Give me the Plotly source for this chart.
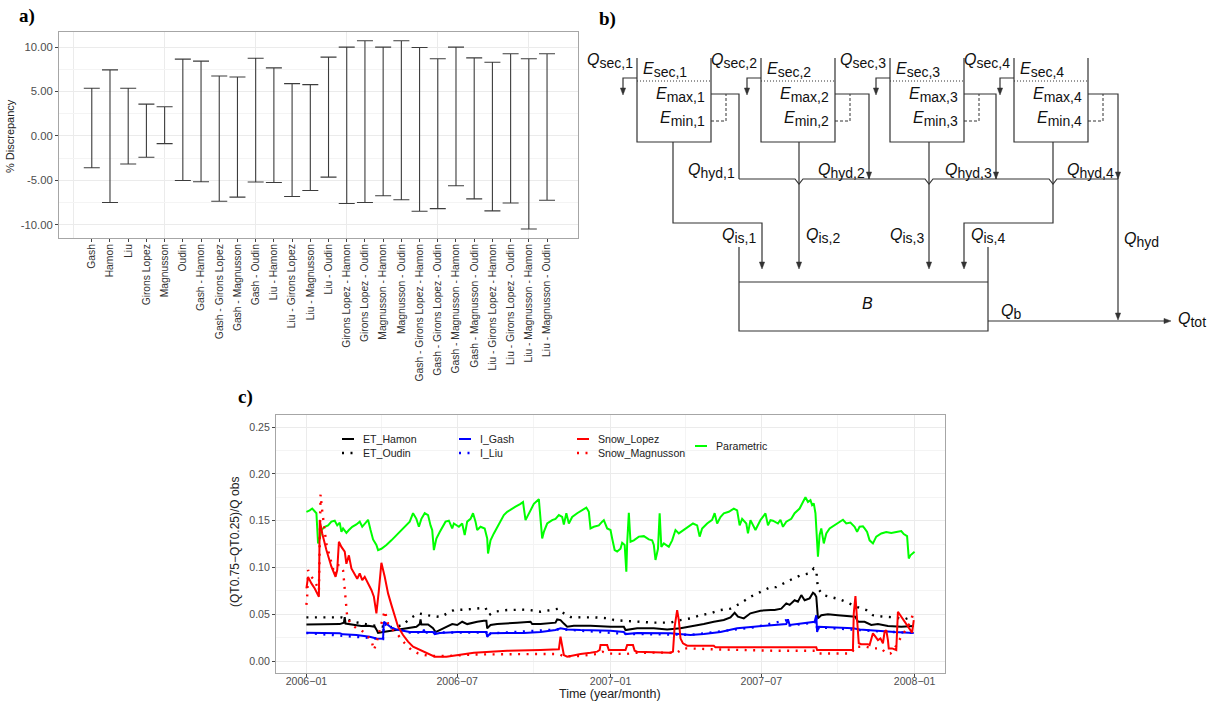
import pandas as pd
import plotly.graph_objects as go

W, H = 1207, 707
FONT = "Liberation Sans"

# ---------------- Panel a data ----------------
methods = ["Gash", "Hamon", "Liu", "Girons Lopez", "Magnusson", "Oudin",
           "Gash - Hamon", "Gash - Girons Lopez", "Gash - Magnusson", "Gash - Oudin",
           "Liu - Hamon", "Liu - Girons Lopez", "Liu - Magnusson", "Liu - Oudin",
           "Girons Lopez - Hamon", "Girons Lopez - Oudin", "Magnusson - Hamon",
           "Magnusson - Oudin", "Gash - Girons Lopez - Hamon", "Gash - Girons Lopez - Oudin",
           "Gash - Magnusson - Hamon", "Gash - Magnusson - Oudin",
           "Liu - Girons Lopez - Hamon", "Liu - Girons Lopez - Oudin",
           "Liu - Magnusson - Hamon", "Liu - Magnusson - Oudin"]
disc_upper = [5.36, 7.43, 5.36, 3.58, 3.28, 8.64, 8.42, 6.75, 6.64, 8.75, 7.66, 5.89, 5.77,
              8.87, 10.0, 10.72, 10.0, 10.72, 9.96, 8.68, 10.0, 8.79, 8.3, 9.25, 8.68, 9.25]
disc_lower = [-3.58, -7.5, -3.17, -2.41, -0.87, -5.02, -5.17, -7.36, -6.9, -5.2, -5.25, -6.83,
              -6.15, -4.64, -7.62, -7.5, -6.75, -7.2, -8.49, -8.19, -5.62, -7.09, -8.45,
              -7.55, -10.49, -7.25]
a_yticks = [-10, -5, 0, 5, 10]
a_yticklabels = ["-10.00", "-5.00", "0.00", "5.00", "10.00"]

# ---------------- Panel c data (days since 2006-01-01, value) ----------------
param_days = [0, 4, 7, 10, 12, 14, 16, 18, 22, 26, 30, 34, 37, 40, 42, 44, 48, 51, 55, 60, 64, 67,
              70, 74, 77, 80, 84, 86, 90, 96, 102, 108, 114, 120, 124, 128, 132, 135, 138, 142,
              146, 149, 151, 153, 156, 160, 167, 171, 175, 177, 183, 187, 190, 193, 197, 200,
              203, 205, 209, 214, 217, 218, 221, 225, 231, 237, 241, 245, 251, 257, 260, 263,
              265, 269, 273, 279, 281, 283, 285, 289, 295, 299, 303, 307, 309, 312, 315, 319,
              325, 331, 336, 339, 341, 345, 351, 355, 357, 361, 365, 367, 370, 373, 377, 379,
              382, 384, 385, 387, 389, 393, 399, 405, 411, 415, 417, 419, 422, 424, 426, 429,
              435, 439, 443, 447, 453, 459, 464, 469, 472, 475, 481, 487, 490, 493, 497, 501,
              507, 513, 517, 520, 523, 528, 530, 533, 539, 545, 551, 554, 557, 560, 566, 569,
              572, 576, 582, 586, 592, 596, 599, 602, 605, 607, 609, 611, 612, 614, 616, 618,
              621, 624, 628, 634, 640, 644, 648, 653, 658, 661, 664, 668, 670, 673, 676, 680,
              684, 690, 696, 702, 708, 714, 717, 721, 723, 725, 730]
param_vals = [.1595, .161, .163, .1595, .158, .1257, .131, .140, .1435, .145, .149, .150, .145,
              .148, .138, .1417, .137, .140, .1435, .146, .149, .1435, .147, .151, .140, .130,
              .124, .1186, .120, .124, .129, .1346, .140, .145, .149, .158, .152, .1435, .152,
              .158, .156, .145, .140, .1186, .131, .138, .149, .150, .1417, .147, .1435, .147,
              .1346, .149, .152, .158, .149, .140, .1435, .1417, .131, .115, .129, .1364, .147,
              .156, .1595, .162, .165, .168, .170, .1506, .154, .161, .168, .173, .1506, .131,
              .138, .147, .1506, .152, .156, .154, .146, .158, .147, .154, .158, .161, .164,
              .1595, .1417, .1435, .145, .149, .1506, .1417, .140, .131, .1186, .117, .120,
              .1264, .124, .0954, .1257, .1585, .1275, .129, .133, .1335, .130, .129, .124,
              .108, .120, .158, .122, .1257, .122, .129, .140, .1364, .140, .1435, .147, .145,
              .133, .1417, .147, .151, .158, .147, .154, .1578, .1595, .163, .161, .145, .152,
              .147, .1364, .1506, .140, .1506, .1578, .145, .1506, .150, .147, .151, .1435,
              .149, .152, .158, .163, .170, .175, .170, .172, .1667, .1685, .158, .1435, .1115,
              .1346, .1417, .1257, .1364, .1417, .145, .149, .151, .147, .148, .1435, .138,
              .1435, .144, .1417, .138, .129, .1257, .133, .1364, .138, .137, .138, .139,
              .1357, .1335, .1097, .113, .1168]

lopez_days = [0, 2, 6, 10, 15, 16, 19, 24, 30, 35, 37, 39, 42, 46, 48, 51, 54, 58, 61, 64, 67, 70,
              74, 78, 81, 84, 87, 90, 94, 98, 102, 106, 110, 116, 122, 128, 136, 144, 150, 154,
              168, 181, 193, 201, 221, 241, 281, 303, 305, 307, 309, 313, 319, 329, 341, 349,
              352, 353, 361, 362, 363, 383, 385, 392, 394, 397, 437, 440, 442, 445, 447, 449,
              452, 457, 489, 491, 612, 613, 656, 657, 659, 661, 663, 666, 674, 676, 680, 683,
              686, 689, 692, 694, 696, 698, 699, 703, 708, 710, 714, 722, 727, 729]
lopez_vals = [.0776, .090, .083, .0776, .0687, .1506, .1364, .1186, .1008, .090, .0972, .1275,
              .122, .117, .104, .113, .099, .092, .088, .0937, .0865, .090, .083, .0759, .0687,
              .051, .0759, .105, .090, .0723, .060, .0474, .0367, .0278, .0207, .0153, .0118,
              .0082, .0064, .0046, .0046, .0064, .008, .0089, .010, .011, .0118, .0125, .026,
              .0153, .0064, .0046, .0057, .0075, .0089, .010, .0118, .017, .017, .0135, .0118,
              .0118, .017, .017, .011, .010, .0089, .010, .0367, .0545, .0438, .0242, .0189,
              .0164, .0164, .0146, .0146, .0118, .0118, .051, .0694, .0438, .019, .018, .018,
              .017, .0296, .026, .0224, .0242, .019, .0313, .033, .0224, .0135, .0135, .0118,
              .0527, .0474, .0367, .0303, .0438]

magnusson_days = [0, 1, 2, 6, 10, 13, 15, 17, 19, 24, 30, 34, 38, 41, 44, 46, 47, 49, 53, 60, 66,
                  70, 78, 81, 84, 88, 91, 94, 98, 104, 110, 118, 126, 134, 142, 152, 168, 200,
                  280, 303, 309, 328, 349, 355, 362, 383, 397, 437, 445, 452, 459, 490, 561, 612,
                  614, 654, 659, 672, 680, 690, 696, 701, 706, 714, 722, 729]
magnusson_vals = [.060, .0705, .0972, .090, .086, .079, .075, .178, .160, .125, .105, .092, .1025,
                  .1025, .097, .079, .065, .047, .040, .035, .033, .0296, .0224, .0118, .019,
                  .033, .0438, .0538, .040, .033, .0278, .019, .0118, .0082, .0064, .0053, .0053,
                  .007, .0075, .0075, .005, .0053, .0075, .010, .008, .0075, .0089, .0089, .009,
                  .0135, .0135, .0125, .011, .011, .008, .008, .0153, .0153, .0135, .0135, .008,
                  .008, .0135, .026, .0367, .0516]

hamon_days = [0, 24, 40, 45, 46, 47, 56, 66, 74, 82, 84, 86, 92, 102, 110, 116, 124, 132, 136,
              137, 138, 146, 152, 155, 160, 168, 175, 181, 187, 193, 199, 205, 213, 216, 217,
              221, 229, 241, 253, 269, 271, 281, 299, 301, 305, 309, 313, 321, 341, 365, 381,
              383, 397, 417, 433, 449, 465, 477, 489, 501, 509, 514, 518, 525, 533, 545, 557,
              562, 570, 576, 580, 586, 590, 594, 598, 604, 608, 610, 612, 613, 614, 618, 626,
              638, 650, 659, 662, 670, 678, 686, 698, 714, 729]
hamon_vals = [.039, .039, .0395, .041, .047, .040, .0385, .0374, .0377, .0367, .0338, .030, .031,
              .0324, .0331, .0338, .035, .0367, .0395, .0445, .039, .039, .035, .031, .0331,
              .0367, .0395, .0385, .042, .0395, .041, .042, .043, .043, .035, .0385, .0395,
              .040, .041, .042, .0395, .0395, .041, .0445, .0438, .040, .0367, .0377, .0377,
              .0367, .0367, .0331, .035, .035, .0338, .035, .0374, .0395, .042, .0438, .0467,
              .0516, .0474, .0456, .051, .0538, .0545, .0545, .056, .0616, .060, .065, .0634,
              .0705, .065, .067, .073, .0716, .0687, .0527, .0456, .049, .050, .049, .048,
              .0474, .042, .042, .0385, .0395, .0374, .0367, .0374]

oudin_days = [0, 42, 56, 68, 80, 100, 115, 125, 135, 145, 161, 169, 177, 191, 201, 215, 219, 225,
              241, 265, 281, 299, 303, 309, 317, 329, 345, 365, 369, 381, 397, 417, 437, 449,
              461, 473, 485, 497, 509, 521, 533, 545, 557, 564, 576, 584, 594, 604, 609, 612,
              613, 614, 620, 630, 640, 650, 660, 672, 680, 692, 706, 718, 726, 729]
oudin_vals = [.0467, .0467, .042, .040, .038, .036, .038, .046, .051, .049, .047, .051, .0545,
              .055, .056, .057, .049, .0527, .0545, .055, .0527, .055, .056, .051, .047, .0467,
              .0467, .0456, .0438, .043, .042, .041, .041, .0438, .0456, .049, .051, .0545, .056,
              .0616, .0687, .074, .079, .079, .0848, .088, .092, .0937, .099, .097, .0865,
              .0776, .0705, .068, .066, .0623, .058, .0545, .049, .0474, .0467, .0445, .0474,
              .047]

gash_days = [0, 24, 40, 44, 60, 76, 84, 92, 93, 96, 102, 108, 116, 124, 140, 141, 142, 152, 154,
             160, 181, 216, 217, 221, 241, 261, 281, 299, 305, 313, 329, 349, 365, 381, 383, 397,
             417, 437, 461, 477, 497, 517, 537, 554, 576, 578, 580, 594, 610, 612, 613, 615, 634,
             656, 664, 682, 706, 729]
gash_vals = [.0303, .0296, .0296, .0285, .0278, .026, .0242, .0239, .042, .040, .0356, .0338,
             .0324, .031, .031, .0335, .031, .031, .0288, .030, .031, .031, .026, .0296, .030,
             .030, .031, .0331, .035, .0338, .0331, .0331, .0324, .031, .0288, .030, .0296,
             .0296, .0278, .0288, .031, .035, .0367, .0377, .0395, .0445, .0385, .040, .042,
             .049, .031, .0367, .036, .035, .0338, .0324, .031, .030]

liu_days = [0, 84, 92, 93, 102, 124, 216, 217, 221, 305, 383, 461, 537, 578, 580, 610, 612, 613,
            615, 682, 729]
liu_vals = [.0300, .024, .0235, .040, .035, .0305, .0305, .026, .0295, .034, .029, .028, .036,
            .044, .038, .041, .048, .031, .036, .032, .030]

c_xticks = ["2006-01-01", "2006-07-01", "2007-01-01", "2007-07-01", "2008-01-01"]
c_xticklabels = ["2006\u221201", "2006\u221207", "2007\u221201", "2007\u221207", "2008\u221201"]
c_yticks = [0, 0.05, 0.10, 0.15, 0.20, 0.25]
c_yticklabels = ["0.00", "0.05", "0.10", "0.15", "0.20", "0.25"]

T0 = pd.Timestamp("2006-01-01")


def to_dates(days):
    return [T0 + pd.Timedelta(days=d) for d in days]


def X(p):
    return p / W


def Y(p):
    return 1 - p / H


fig = go.Figure()

# ---------------- Panel a ----------------
mid = [(u + l) / 2 for u, l in zip(disc_upper, disc_lower)]
fig.add_trace(go.Scatter(
    x=list(range(1, len(methods) + 1)), y=mid, mode="markers",
    marker=dict(size=1, opacity=0), showlegend=False, hoverinfo="skip",
    error_y=dict(type="data", symmetric=False,
                 array=[u - m for u, m in zip(disc_upper, mid)],
                 arrayminus=[m - l for m, l in zip(mid, disc_lower)],
                 color="#3c3c3c", thickness=1.1, width=8),
    xaxis="x", yaxis="y"))

# ---------------- Panel c ----------------
BLACK, BLUE, RED, GREEN = "#000000", "#0000FF", "#FF0000", "#00FF00"
DOT = "2px,6.5px"
series = [
    ("ET_Oudin", oudin_days, oudin_vals, BLACK, DOT, 2.4),
    ("ET_Hamon", hamon_days, hamon_vals, BLACK, "solid", 2),
    ("I_Liu", liu_days, liu_vals, BLUE, DOT, 2.4),
    ("I_Gash", gash_days, gash_vals, BLUE, "solid", 2),
    ("Parametric", param_days, param_vals, GREEN, "solid", 2),
    ("Snow_Lopez", lopez_days, lopez_vals, RED, "solid", 2),
    ("Snow_Magnusson", magnusson_days, magnusson_vals, RED, DOT, 2.4),
]
for name, d, v, col, dash, lw in series:
    fig.add_trace(go.Scatter(x=to_dates(d), y=v, mode="lines", name=name,
                             line=dict(color=col, dash=dash, width=lw),
                             showlegend=False, xaxis="x2", yaxis="y2"))

# dummy trace so the diagram axes exist
fig.add_trace(go.Scatter(x=[600], y=[10], mode="markers", marker=dict(opacity=0),
                         showlegend=False, hoverinfo="skip", xaxis="x3", yaxis="y3"))

shapes = []
annotations = []

# manual legend for panel c
legend_layout = [("ET_Hamon", BLACK, "solid", 342, 439), ("ET_Oudin", BLACK, DOT, 342, 453),
                 ("I_Gash", BLUE, "solid", 459, 439), ("I_Liu", BLUE, DOT, 459, 453),
                 ("Snow_Lopez", RED, "solid", 577, 439), ("Snow_Magnusson", RED, DOT, 577, 453),
                 ("Parametric", GREEN, "solid", 695, 446)]
for name, col, dash, lx, ly in legend_layout:
    shapes.append(dict(type="line", xref="paper", yref="paper", x0=X(lx), x1=X(lx + 12),
                       y0=Y(ly), y1=Y(ly), line=dict(color=col, width=2.4 if dash != "solid" else 2,
                                                     dash=dash)))
    annotations.append(dict(x=X(lx + 19), y=Y(ly), xref="paper", yref="paper", text=name,
                            showarrow=False, xanchor="left", yanchor="middle",
                            font=dict(family=FONT, size=10.6, color="#222222")))

# ---------------- Panel b diagram (pixel coordinates on x3/y3) ----------------
LC = "#333333"


def line(x0, y0, x1, y1, dash="solid", width=1.2):
    shapes.append(dict(type="line", xref="x3", yref="y3", x0=x0, y0=y0, x1=x1, y1=y1,
                       line=dict(color=LC, width=width, dash=dash)))


def poly(pts, dash="solid", width=1.2):
    p = "M " + " L ".join(f"{a},{b}" for a, b in pts)
    shapes.append(dict(type="path", xref="x3", yref="y3", path=p,
                       line=dict(color=LC, width=width, dash=dash)))


def head_down(x, y):
    shapes.append(dict(type="path", xref="x3", yref="y3",
                       path=f"M {x-2.6},{y-7} L {x+2.6},{y-7} L {x},{y} Z",
                       fillcolor=LC, line=dict(color=LC, width=0.5)))


def head_right(x, y):
    shapes.append(dict(type="path", xref="x3", yref="y3",
                       path=f"M {x-7},{y-2.6} L {x-7},{y+2.6} L {x},{y} Z",
                       fillcolor=LC, line=dict(color=LC, width=0.5)))


def label(x, y, main, sub, anchor, size=16, subsize=14):
    txt = f"<i>{main}</i>"
    if sub:
        txt += f"<sub><span style='font-size:{subsize}px'>{sub}</span></sub>"
    annotations.append(dict(x=x, y=y, xref="x3", yref="y3", text=txt, showarrow=False,
                            xanchor=anchor, yanchor="middle",
                            font=dict(family=FONT, size=size, color="#111111")))


tank_left = [637, 761, 890, 1014]
tank_right = [711, 835, 964, 1088]
hyd_x = [739, 869, 996, 1118]
out_x = [673, 799, 929, 1053]
T_TOP, T_BOT, T_DOT, E_MAX, E_MIN, COLL = 58, 142, 81, 94, 121, 179

for i in range(4):
    L, R = tank_left[i], tank_right[i]
    poly([(L, T_TOP), (L, T_BOT), (R, T_BOT), (R, T_TOP)])
    line(L, T_DOT, R, T_DOT, dash="1px,2px", width=1)
    # Q_sec outflow
    poly([(L, 78), (L - 14, 78), (L - 14, 93)])
    head_down(L - 14, 95)
    # E_max overflow to hydro line
    hx = hyd_x[i]
    poly([(R, E_MAX), (hx, E_MAX), (hx, COLL)])
    if i > 0:
        head_down(hx, COLL)
    # dashed E_min link
    poly([(R, E_MIN), (R + 15, E_MIN), (R + 15, E_MAX)], dash="3px,2px", width=1)
    n = i + 1
    label(L - 2, 61, "Q", f"sec,{n}", "right")
    label(L + 4, 70, "E", f"sec,{n}", "left")
    label(R - 4, 95, "E", f"max,{n}", "right")
    label(R - 4, 119, "E", f"min,{n}", "right")
    label(hx - 2, 171, "Q", f"hyd,{n}", "right")

# collector line with hop-overs
pts = [(hyd_x[0], COLL)]
for ox in out_x[1:]:
    pts += [(ox - 4, COLL), (ox, COLL + 5), (ox + 4, COLL)]
pts.append((hyd_x[3], COLL))
poly(pts)

# Q_hyd down to total
line(hyd_x[3], COLL, hyd_x[3], 318)
head_down(hyd_x[3], 320)

# interflows to basin
poly([(out_x[0], T_BOT), (out_x[0], 223), (762, 223), (762, 267)])
head_down(762, 269)
line(out_x[1], T_BOT, out_x[1], 267)
head_down(out_x[1], 269)
line(out_x[2], T_BOT, out_x[2], 267)
head_down(out_x[2], 269)
poly([(out_x[3], T_BOT), (out_x[3], 223), (964, 223), (964, 267)])
head_down(964, 269)
label(758, 236, "Q", "is,1", "right")
label(804, 236, "Q", "is,2", "left")
label(926, 236, "Q", "is,3", "right")
label(969, 236, "Q", "is,4", "left")
label(1122, 240, "Q", "hyd", "left")

# basin B
poly([(739, 247), (739, 331), (988, 331), (988, 247)])
line(739, 282, 988, 282)
label(867, 303, "B", "", "center")
line(988, 321, 1168, 321)
head_right(1171, 321)
label(999, 312, "Q", "b", "left")
label(1176, 320, "Q", "tot", "left")

# panel letters
for txt, px_, py_ in [("a)", 27, 16), ("b)", 607, 19), ("c)", 245, 397)]:
    annotations.append(dict(x=X(px_), y=Y(py_), xref="paper", yref="paper", text=f"<b>{txt}</b>",
                            showarrow=False, xanchor="center", yanchor="middle",
                            font=dict(family="Liberation Serif", size=19, color="#000000")))

# axis titles
annotations.append(dict(x=X(10), y=Y(136), xref="paper", yref="paper", text="% Discrepancy",
                        showarrow=False, textangle=-90, xanchor="center", yanchor="middle",
                        font=dict(family=FONT, size=11, color="#222222")))
annotations.append(dict(x=X(235), y=Y(542), xref="paper", yref="paper",
                        text="(QT0.75\u2212QT0.25)/Q obs", showarrow=False, textangle=-90,
                        xanchor="center", yanchor="middle",
                        font=dict(family=FONT, size=12, color="#222222")))
annotations.append(dict(x=X(610), y=Y(694), xref="paper", yref="paper",
                        text="Time (year/month)", showarrow=False,
                        xanchor="center", yanchor="middle",
                        font=dict(family=FONT, size=12.5, color="#222222")))

GRID, MINOR, FRAME = "#ebebeb", "#f4f4f4", "#a6a6a6"
tickfont = dict(family=FONT, size=10.6, color="#4d4d4d")

fig.update_layout(
    width=W, height=H, autosize=False,
    margin=dict(l=0, r=0, t=0, b=0),
    paper_bgcolor="white", plot_bgcolor="white",
    showlegend=False,
    shapes=shapes, annotations=annotations,
    xaxis=dict(domain=[X(59), X(578)], range=[-0.8, 27.7], anchor="y",
               tickmode="array", tickvals=list(range(1, len(methods) + 1)), ticktext=methods,
               tickangle=-90, showgrid=False, zeroline=False, ticklabelstandoff=-2,
               minor=dict(tickvals=[0, 5, 10, 15, 20, 25], showgrid=True, gridcolor=GRID,
                          gridwidth=1),
               ticks="outside", ticklen=3, tickcolor="#444", tickwidth=1,
               tickfont=dict(family=FONT, size=10.3, color="#333333"),
               showline=True, mirror=True, linecolor=FRAME, linewidth=1, automargin=False),
    yaxis=dict(domain=[Y(238), Y(32)], range=[-11.5, 11.7], anchor="x",
               tickmode="array", tickvals=a_yticks, ticktext=a_yticklabels,
               showgrid=True, gridcolor=GRID, gridwidth=1, zeroline=False,
               minor=dict(tickvals=[-7.5, -2.5, 2.5, 7.5], showgrid=True, gridcolor=MINOR,
                          gridwidth=1),
               ticks="outside", ticklen=3, tickcolor="#444",
               tickfont=dict(family=FONT, size=11.3, color="#4d4d4d"),
               showline=True, mirror=True, linecolor=FRAME, linewidth=1, automargin=False),
    xaxis2=dict(domain=[X(276), X(945)], type="date",
                range=["2005-11-25 12:00", "2008-02-06 12:00"], anchor="y2",
                tickmode="array", tickvals=c_xticks, ticktext=c_xticklabels,
                showgrid=True, gridcolor=GRID, gridwidth=1, zeroline=False,
                ticklabelstandoff=-5,
                minor=dict(tickvals=["2006-04-01", "2006-10-01", "2007-04-01", "2007-10-01"],
                           showgrid=True, gridcolor=MINOR, gridwidth=1),
                ticks="outside", ticklen=3, tickcolor="#444", tickfont=tickfont,
                showline=True, mirror=True, linecolor=FRAME, linewidth=1, automargin=False),
    yaxis2=dict(domain=[Y(673), Y(415)], range=[-0.0128, 0.263], anchor="x2",
                tickmode="array", tickvals=c_yticks, ticktext=c_yticklabels,
                showgrid=True, gridcolor=GRID, gridwidth=1, zeroline=False,
                minor=dict(tickvals=[0.025, 0.075, 0.125, 0.175, 0.225], showgrid=True,
                           gridcolor=MINOR, gridwidth=1),
                ticks="outside", ticklen=3, tickcolor="#444", tickfont=tickfont,
                showline=True, mirror=True, linecolor=FRAME, linewidth=1, automargin=False),
    xaxis3=dict(domain=[X(580), 1.0], range=[580, W], anchor="y3", visible=False,
                fixedrange=True),
    yaxis3=dict(domain=[Y(353.5), 1.0], range=[353.5, 0], anchor="x3", visible=False,
                fixedrange=True),
)

fig.write_html("out.html")
